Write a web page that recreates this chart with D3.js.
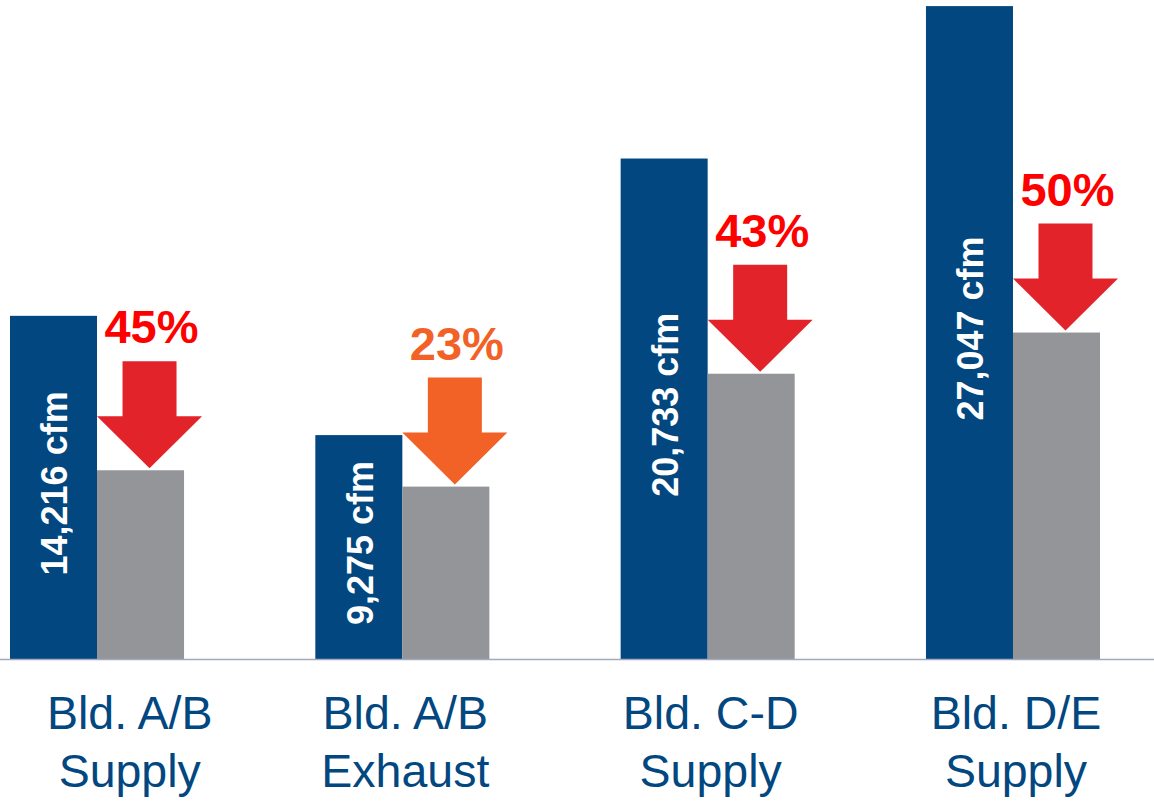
<!DOCTYPE html>
<html>
<head>
<meta charset="utf-8">
<script src="https://cdn.jsdelivr.net/npm/d3@7"></script>
<style>
  html, body { margin: 0; padding: 0; background: #ffffff; }
  svg { display: block; }
  text { font-family: "Liberation Sans", Arial, Helvetica, sans-serif; }
</style>
</head>
<body>
<svg id="chart" width="1154" height="801"></svg>
<script>
// Airflow per system: design flow vs. reduced flow (cfm)
const categories = [["Bld. A/B", "Supply"], ["Bld. A/B", "Exhaust"], ["Bld. C-D", "Supply"], ["Bld. D/E", "Supply"]];
const designCfm = [14216, 9275, 20733, 27047];
const reducedCfm = [7819, 7142, 11818, 13524];
const reductionPct = [45, 23, 43, 50];
const seriesKeys = ["design", "reduced"];

const W = 1154, H = 801;
const baseY = 659;

const svg = d3.select("#chart");

const keys = categories.map((c, i) => "c" + i);
const rows = keys.map((k, i) => ({
  key: k,
  label: categories[i],
  design: designCfm[i],
  reduced: reducedCfm[i],
  pct: reductionPct[i]
}));

const x = d3.scaleBand().domain(keys).range([10, 1100]).paddingInner(0.43).paddingOuter(0);
const xs = d3.scaleBand().domain(seriesKeys).range([0, x.bandwidth()]).padding(0);
const y = d3.scaleLinear().domain([0, 27300]).range([baseY, 0]);

const colors = { design: "#02477F", reduced: "#939598" };
const arrowColor = p => p >= 40 ? "#E2242A" : "#F26125";
const pctColor = p => p >= 40 ? "#FF0000" : "#F26125";

const groups = svg.selectAll("g.grp").data(rows).join("g")
  .attr("class", "grp")
  .attr("transform", d => `translate(${x(d.key)},0)`);

// bars
groups.selectAll("rect").data(d => seriesKeys.map(s => ({ s, v: d[s] }))).join("rect")
  .attr("x", d => xs(d.s))
  .attr("y", d => y(d.v))
  .attr("width", xs.bandwidth())
  .attr("height", d => baseY - y(d.v))
  .attr("fill", d => colors[d.s]);

// rotated value label inside the design bar
groups.append("text")
  .attr("transform", d => `translate(${xs("design") + xs.bandwidth() / 2 + 1},${(y(d.design) + baseY) / 2 - 4}) rotate(-90)`)
  .attr("text-anchor", "middle")
  .attr("dy", "0.36em")
  .attr("fill", "#ffffff")
  .attr("font-weight", "bold")
  .attr("font-size", 36)
  .text(d => d3.format(",")(d.design) + " cfm");

// down arrow pointing to the reduced bar
const headHalf = 52.5, headH = 52, shaftHalf = 27, shaftH = 55;
function arrowPath(cx, tip) {
  const p = d3.path();
  const top = tip - headH - shaftH;
  p.moveTo(cx - shaftHalf, top);
  p.lineTo(cx + shaftHalf, top);
  p.lineTo(cx + shaftHalf, tip - headH);
  p.lineTo(cx + headHalf, tip - headH);
  p.lineTo(cx, tip);
  p.lineTo(cx - headHalf, tip - headH);
  p.lineTo(cx - shaftHalf, tip - headH);
  p.closePath();
  return p.toString();
}
const arrowCx = () => xs("reduced") + xs.bandwidth() / 2 + 9;
groups.append("path")
  .attr("d", d => arrowPath(arrowCx(), y(d.reduced) - 2))
  .attr("fill", d => arrowColor(d.pct));

groups.append("text")
  .attr("x", arrowCx() + 2)
  .attr("y", d => y(d.reduced) - 2 - headH - shaftH - 18)
  .attr("text-anchor", "middle")
  .attr("font-weight", "bold")
  .attr("font-size", 47)
  .attr("fill", d => pctColor(d.pct))
  .text(d => d.pct + "%");

// baseline
svg.append("line")
  .attr("x1", 0).attr("x2", W)
  .attr("y1", baseY + 0.5).attr("y2", baseY + 0.5)
  .attr("stroke", "#A3A9BF")
  .attr("stroke-width", 1.6);

// category labels, kept clear of the left edge
const labelFont = 46.5;
const cats = svg.selectAll("text.cat").data(rows).join("text")
  .attr("class", "cat")
  .attr("text-anchor", "middle")
  .attr("font-size", labelFont)
  .attr("fill", "#02477F");
cats.each(function (d) {
  const t = d3.select(this);
  d.label.forEach((line, i) => {
    t.append("tspan").attr("x", 0).attr("y", 729 + i * 58).text(line);
  });
  const bb = this.getBBox();
  const half = bb.width / 2;
  const cx = Math.max(x(d.key) + x.bandwidth() / 2 + 3, 47 + half);
  t.selectAll("tspan").attr("x", cx);
});
</script>
</body>
</html>
